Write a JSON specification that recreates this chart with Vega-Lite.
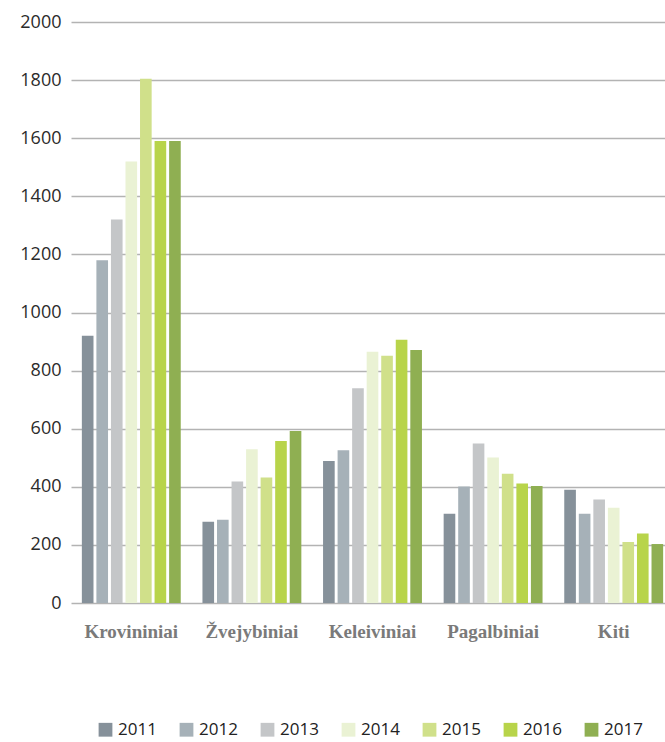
{
  "$schema": "https://vega.github.io/schema/vega-lite/v6.json",
  "autosize": {"type": "none"},
  "padding": {"left": 71, "top": 22, "right": 0, "bottom": 139},
  "width": 603,
  "height": 581,
  "background": "white",
  "data": {
    "values": [
      {"tips": "Krovininiai", "metai": "2011", "kiekis": 920},
      {"tips": "Krovininiai", "metai": "2012", "kiekis": 1180},
      {"tips": "Krovininiai", "metai": "2013", "kiekis": 1320},
      {"tips": "Krovininiai", "metai": "2014", "kiekis": 1520},
      {"tips": "Krovininiai", "metai": "2015", "kiekis": 1805},
      {"tips": "Krovininiai", "metai": "2016", "kiekis": 1590},
      {"tips": "Krovininiai", "metai": "2017", "kiekis": 1590},
      {"tips": "Žvejybiniai", "metai": "2011", "kiekis": 280},
      {"tips": "Žvejybiniai", "metai": "2012", "kiekis": 287},
      {"tips": "Žvejybiniai", "metai": "2013", "kiekis": 418},
      {"tips": "Žvejybiniai", "metai": "2014", "kiekis": 529},
      {"tips": "Žvejybiniai", "metai": "2015", "kiekis": 432},
      {"tips": "Žvejybiniai", "metai": "2016", "kiekis": 558},
      {"tips": "Žvejybiniai", "metai": "2017", "kiekis": 592},
      {"tips": "Keleiviniai", "metai": "2011", "kiekis": 489},
      {"tips": "Keleiviniai", "metai": "2012", "kiekis": 526},
      {"tips": "Keleiviniai", "metai": "2013", "kiekis": 739},
      {"tips": "Keleiviniai", "metai": "2014", "kiekis": 865},
      {"tips": "Keleiviniai", "metai": "2015", "kiekis": 851},
      {"tips": "Keleiviniai", "metai": "2016", "kiekis": 906},
      {"tips": "Keleiviniai", "metai": "2017", "kiekis": 871},
      {"tips": "Pagalbiniai", "metai": "2011", "kiekis": 307},
      {"tips": "Pagalbiniai", "metai": "2012", "kiekis": 401},
      {"tips": "Pagalbiniai", "metai": "2013", "kiekis": 549},
      {"tips": "Pagalbiniai", "metai": "2014", "kiekis": 501},
      {"tips": "Pagalbiniai", "metai": "2015", "kiekis": 445},
      {"tips": "Pagalbiniai", "metai": "2016", "kiekis": 411},
      {"tips": "Pagalbiniai", "metai": "2017", "kiekis": 403},
      {"tips": "Kiti", "metai": "2011", "kiekis": 390},
      {"tips": "Kiti", "metai": "2012", "kiekis": 307},
      {"tips": "Kiti", "metai": "2013", "kiekis": 356},
      {"tips": "Kiti", "metai": "2014", "kiekis": 328},
      {"tips": "Kiti", "metai": "2015", "kiekis": 210},
      {"tips": "Kiti", "metai": "2016", "kiekis": 239},
      {"tips": "Kiti", "metai": "2017", "kiekis": 203}
    ]
  },
  "mark": {"type": "bar"},
  "encoding": {
    "x": {
      "field": "tips",
      "type": "nominal",
      "sort": ["Krovininiai", "Žvejybiniai", "Keleiviniai", "Pagalbiniai", "Kiti"],
      "scale": {"paddingInner": 0.18, "paddingOuter": 0.09},
      "axis": {
        "title": null,
        "labelAngle": 0,
        "domain": false,
        "ticks": false,
        "labelPadding": 19,
        "labelFont": "Liberation Serif",
        "labelFontWeight": "bold",
        "labelFontSize": 19,
        "labelColor": "#7a7a7a"
      }
    },
    "xOffset": {
      "field": "metai",
      "type": "nominal",
      "scale": {"paddingInner": 0.2, "paddingOuter": 0}
    },
    "y": {
      "field": "kiekis",
      "type": "quantitative",
      "scale": {"domain": [0, 2000], "nice": false},
      "axis": {
        "title": null,
        "values": [0, 200, 400, 600, 800, 1000, 1200, 1400, 1600, 1800, 2000],
        "format": "d",
        "domain": false,
        "ticks": false,
        "grid": true,
        "gridColor": "#b3b3b3",
        "gridWidth": 1.6,
        "labelPadding": 10,
        "labelFont": "Open Sans",
        "labelFontSize": 18,
        "labelColor": "#2b2b2b"
      }
    },
    "color": {
      "field": "metai",
      "type": "nominal",
      "scale": {
        "domain": ["2011", "2012", "2013", "2014", "2015", "2016", "2017"],
        "range": ["#86919a", "#a6b1b8", "#c4c6c8", "#eaf2d4", "#d0e08a", "#b8d44a", "#8faf52"]
      },
      "legend": {
        "title": null,
        "orient": "none",
        "direction": "horizontal",
        "legendX": 26,
        "legendY": 699,
        "symbolType": "square",
        "symbolSize": 190,
        "symbolStrokeWidth": 0,
        "labelFont": "Open Sans",
        "labelFontSize": 17,
        "labelColor": "#222222",
        "labelOffset": 4,
        "columnPadding": 21
      }
    }
  },
  "config": {"view": {"stroke": null}}
}
